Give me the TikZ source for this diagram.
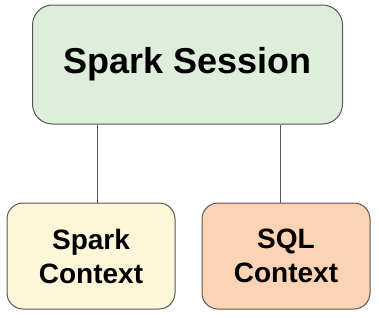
\documentclass[tikz,border=0pt]{standalone}
\usepackage{fontspec}
\setsansfont{Liberation Sans}
\usepackage{tikz}
\usetikzlibrary{
  positioning,
  calc
}
\definecolor{SessGreen}{HTML}{DDEEDB}
\definecolor{CtxCream}{HTML}{FDF6D8}
\definecolor{CtxPeach}{HTML}{FCD3B5}
\definecolor{EdgeGray}{HTML}{555555}
\tikzset{
  % Main box
  sess/.style={
    rectangle, rounded corners=20pt,
    draw=EdgeGray, fill=#1, line width=1pt,
    minimum width=310pt, minimum height=119pt,
    align=center, font=\sffamily\bfseries\fontsize{36}{42}\selectfont
  },
  % Context box
  ctx/.style={
    rectangle, rounded corners=16pt,
    draw=EdgeGray, fill=#1, line width=1pt,
    minimum width=168pt, minimum height=106pt,
    align=center, font=\sffamily\bfseries\fontsize{28}{34}\selectfont
  },
  % Connector
  link/.style={line width=1pt, color=EdgeGray}
}
\begin{document}
\begin{tikzpicture}[x=1pt,y=1pt]
  \useasboundingbox (0,0) rectangle (379,317);

  \node[sess=SessGreen] (session) at (187.5,252.5) {Spark Session};
  \node[ctx=CtxCream] (sparkctx) at (91,61)    {Spark\\Context};
  \node[ctx=CtxPeach, right=26pt of sparkctx] (sqlctx) {SQL\\Context};

  \draw[link] ([xshift=6pt]sparkctx.north) -- ([xshift=6pt]sparkctx.north |- session.south);
  \draw[link] ([xshift=-5.5pt]sqlctx.north) -- ([xshift=-5.5pt]sqlctx.north |- session.south);

\end{tikzpicture}
\end{document}
